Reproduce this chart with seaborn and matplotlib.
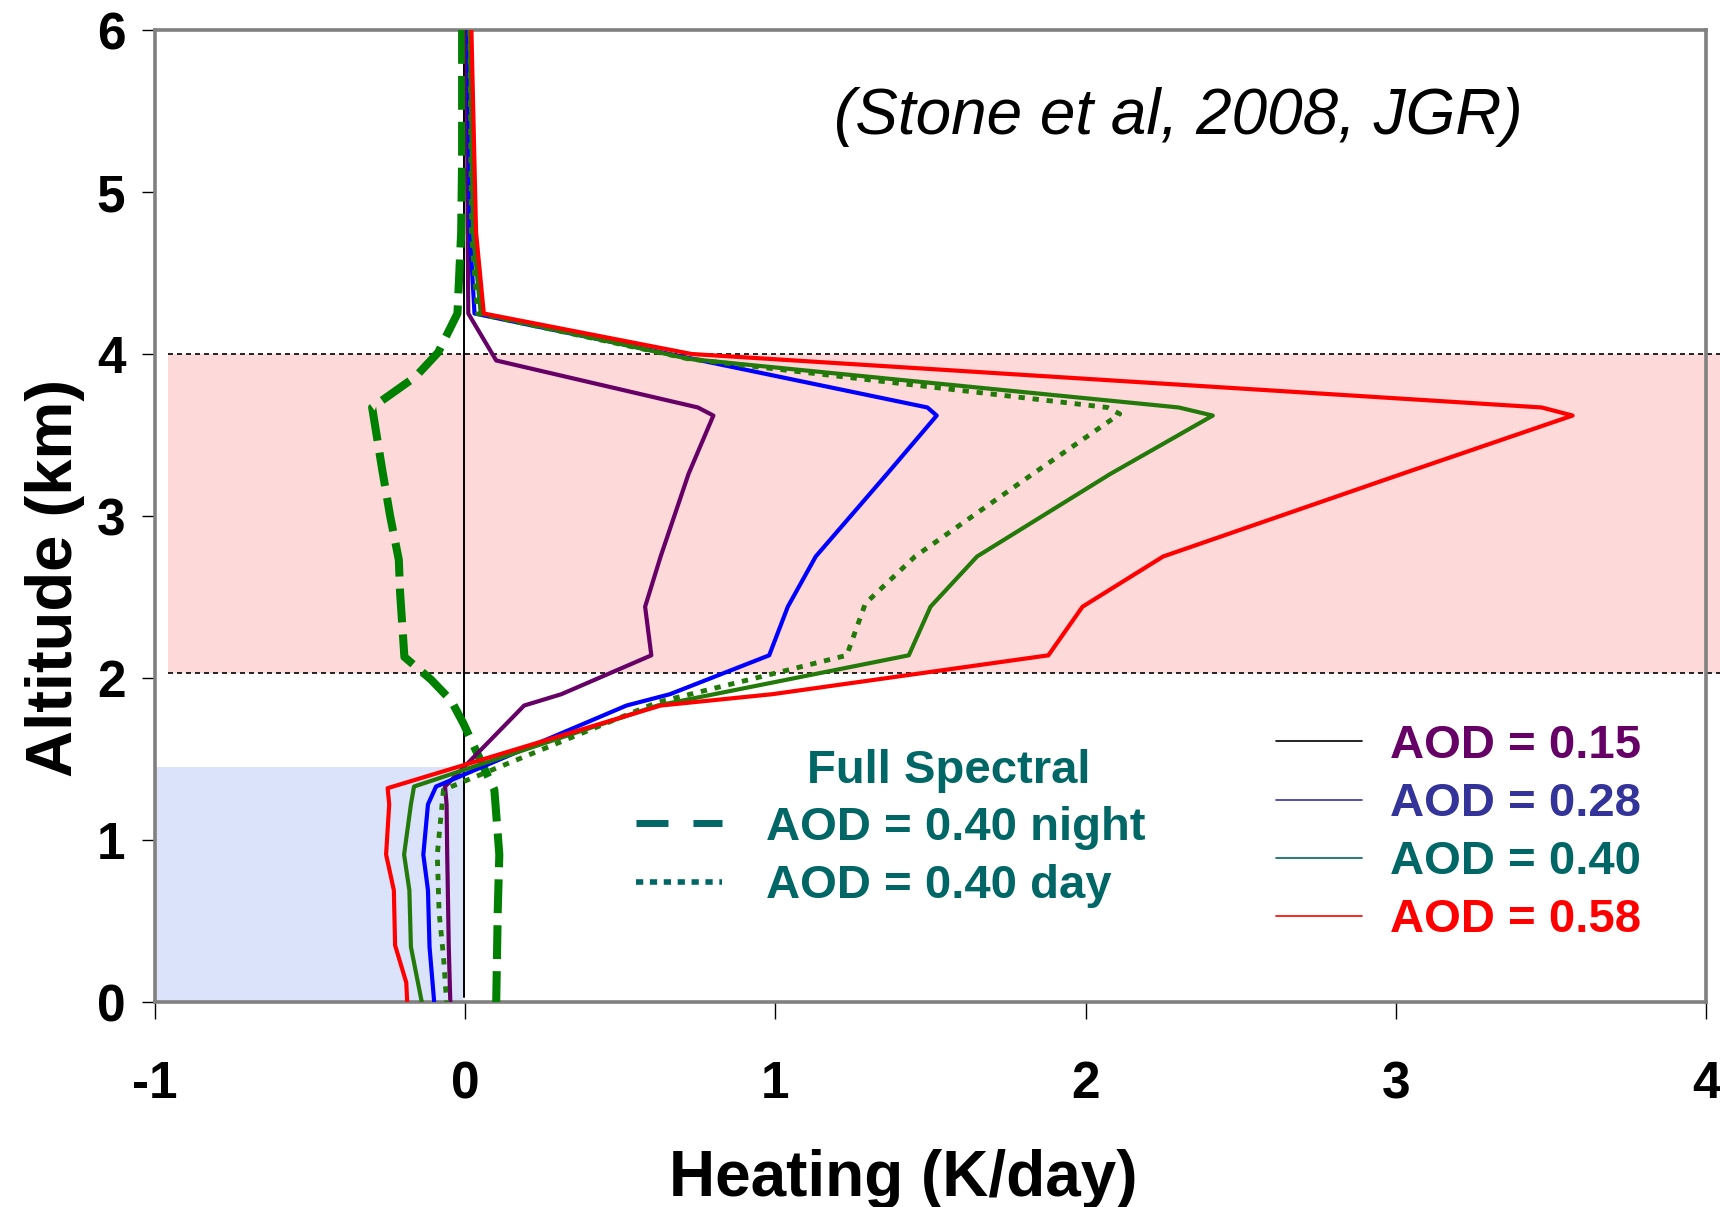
import matplotlib
matplotlib.use("Agg")
import matplotlib.pyplot as plt
import seaborn as sns
import pandas as pd
from matplotlib.lines import Line2D
from matplotlib.patches import Rectangle

# ---------------- data ----------------
alt_015 = [6.0, 4.75, 4.25, 3.96, 3.67, 3.62, 3.26, 2.75, 2.44, 2.14, 1.90, 1.83, 1.33, 1.22, 0.91, 0.69, 0.34, 0.0]
heat_015 = [0.005, 0.008, 0.01, 0.10, 0.75, 0.80, 0.72, 0.63, 0.58, 0.60, 0.31, 0.19, -0.065, -0.060, -0.058, -0.056, -0.053, -0.048]

alt_028 = [6.0, 4.75, 4.25, 3.67, 3.62, 3.26, 2.75, 2.44, 2.14, 1.90, 1.83, 1.33, 1.22, 0.91, 0.69, 0.34, 0.0]
heat_028 = [0.01, 0.015, 0.03, 1.49, 1.52, 1.36, 1.13, 1.04, 0.98, 0.66, 0.52, -0.094, -0.12, -0.135, -0.12, -0.115, -0.10]

alt_040 = [6.0, 4.75, 4.25, 3.97, 3.67, 3.62, 3.26, 2.75, 2.44, 2.14, 1.83, 1.33, 1.22, 0.91, 0.69, 0.34, 0.0]
heat_040 = [0.015, 0.025, 0.05, 0.72, 2.30, 2.41, 2.08, 1.65, 1.50, 1.43, 0.62, -0.165, -0.175, -0.197, -0.18, -0.175, -0.14]

alt_058 = [6.0, 4.75, 4.25, 4.0, 3.67, 3.62, 3.26, 2.75, 2.44, 2.14, 1.90, 1.83, 1.32, 1.22, 0.91, 0.69, 0.35, 0.12, 0.0]
heat_058 = [0.02, 0.035, 0.06, 0.73, 3.47, 3.57, 3.02, 2.25, 1.99, 1.88, 0.99, 0.63, -0.25, -0.245, -0.255, -0.23, -0.226, -0.19, -0.187]

alt_040_day = [6.0, 4.75, 4.25, 3.97, 3.67, 3.63, 3.26, 2.75, 2.46, 2.14, 2.03, 1.85, 1.31, 0.91, 0.55, 0.28, 0.0]
heat_040_day = [0.015, 0.02, 0.04, 0.72, 2.07, 2.11, 1.83, 1.45, 1.29, 1.23, 1.0, 0.62, -0.07, -0.09, -0.084, -0.07, -0.06]

alt_040_night = [6.0, 5.2, 4.75, 4.25, 4.01, 3.86, 3.67, 3.28, 3.0, 2.73, 2.53, 2.13, 1.99, 1.86, 1.72, 1.39, 1.31, 0.91, 0.57, 0.0]
heat_040_night = [-0.01, -0.01, -0.013, -0.025, -0.087, -0.16, -0.30, -0.267, -0.242, -0.214, -0.21, -0.196, -0.11, -0.045, -0.006, 0.074, 0.094, 0.11, 0.105, 0.10]

aerosol_layer = (2.03, 4.0)      # km, shaded pink band
boundary_layer_top = 1.45        # km, shaded blue box

x_ticks = [-1, 0, 1, 2, 3, 4]
x_tick_labels = ["-1", "0", "1", "2", "3", "4"]
y_ticks = [0, 1, 2, 3, 4, 5, 6]
y_tick_labels = ["0", "1", "2", "3", "4", "5", "6"]

aod_labels = ["AOD = 0.15", "AOD = 0.28", "AOD = 0.40", "AOD = 0.58"]
fs_labels = ["AOD = 0.40 night", "AOD = 0.40 day"]

# ---------------- style ----------------
sns.set_theme(style="white")
plt.rcParams["font.family"] = ["Liberation Sans", "DejaVu Sans"]
plt.rcParams["axes.unicode_minus"] = False

W, H = 1720, 1207
fig = plt.figure(figsize=(W / 100, H / 100), dpi=100)
ax = fig.add_axes([155 / W, 1 - 1002 / H, 1551 / W, 972 / H])
ax.set_xlim(-1, 4)
ax.set_ylim(0, 6)

# shaded regions
x_band_left = -0.957
x_band_right = 4.05
ax.add_patch(Rectangle((x_band_left, aerosol_layer[0]), x_band_right - x_band_left,
                       aerosol_layer[1] - aerosol_layer[0], fc="#fdd9d9", ec="none",
                       clip_on=False, zorder=0))
ax.add_patch(Rectangle((-1, 0), 0.992, boundary_layer_top, fc="#dbe3fa", ec="none",
                       zorder=0.5))
for yb in aerosol_layer:
    ax.plot([x_band_left, x_band_right], [yb, yb], color="black", lw=1.2,
            dashes=(3, 2.4), clip_on=False, zorder=1)

ax.axvline(-0.005, ymin=0.005, ymax=1, color="black", lw=1.4, zorder=1.5)

def draw(alt, heat, color, lw, dashes=None, z=3):
    df = pd.DataFrame({"heat": heat, "alt": alt})
    kw = dict(color=color, lw=lw, zorder=z)
    if dashes is not None:
        kw["dashes"] = dashes
    sns.lineplot(data=df, x="heat", y="alt", sort=False, estimator=None,
                 ax=ax, legend=False, **kw)

draw(alt_040_night, heat_040_night, "#008000", 5.8, dashes=(4.2, 1.5), z=2.8)
draw(alt_015, heat_015, "#660066", 3.0)
draw(alt_028, heat_028, "#0000ff", 3.0)
draw(alt_040_day, heat_040_day, "#237a0a", 3.5, dashes=(1.3, 1.6), z=3.1)
draw(alt_040, heat_040, "#237a0a", 3.0, z=3.2)
draw(alt_058, heat_058, "#ff0000", 3.0, z=3.3)

# axes cosmetics
for s in ax.spines.values():
    s.set_color("#808080")
    s.set_linewidth(2.6)
    s.set_zorder(2.5)
ax.set_xticks(x_ticks)
ax.set_xticklabels(x_tick_labels)
ax.set_yticks(y_ticks)
ax.set_yticklabels(y_tick_labels)
ax.tick_params(axis="both", bottom=True, left=True, top=False, right=False,
               direction="out", width=1.0, color="black",
               labelsize=37, labelcolor="black")
ax.tick_params(axis="x", length=12, pad=30)
ax.tick_params(axis="y", length=9.4, pad=12)
for lab in ax.get_xticklabels() + ax.get_yticklabels():
    lab.set_fontweight("bold")

ax.set_xlabel("Heating (K/day)", fontsize=46, fontweight="bold", color="black")
ax.set_ylabel("Altitude (km)", fontsize=47, fontweight="bold", color="black")
ax.xaxis.set_label_coords((903 - 155) / 1551, (1002 - 1149) / 972)
ax.yaxis.set_label_coords((85 - 155) / 1551, (1002 - 578) / 972)

ax.text(2.30, 5.46, "(Stone et al, 2008, JGR)", fontsize=46, style="italic",
        fontweight="normal", ha="center", va="center", color="black")

# legends
teal = "#006666"
h_fs = [Line2D([], [], color=teal, lw=5, dashes=(4.6, 3.6)),
        Line2D([], [], color=teal, lw=4, dashes=(1.3, 1.2))]
leg1 = ax.legend(h_fs, fs_labels, loc="upper left",
                 bbox_to_anchor=(636 / W, (H - 806) / H), bbox_transform=fig.transFigure,
                 frameon=False, prop={"size": 34, "weight": "bold"},
                 handlelength=1.82, handletextpad=0.93, labelspacing=0.3,
                 borderpad=0, borderaxespad=0)
for t in leg1.get_texts():
    t.set_color(teal)
ax.add_artist(leg1)
fig.text(949 / W, 1 - 771 / H, "Full Spectral", ha="center", va="center",
         color=teal, fontsize=34, fontweight="bold")

h_aod = [Line2D([], [], color=c, lw=1.2) for c in ["black", "#3333aa", teal, "#ff0000"]]
leg2 = ax.legend(h_aod, aod_labels, loc="upper left",
                 bbox_to_anchor=(1276 / W, (H - 724) / H), bbox_transform=fig.transFigure,
                 frameon=False, prop={"size": 34, "weight": "bold"},
                 handlelength=1.82, handletextpad=0.59, labelspacing=0.3,
                 borderpad=0, borderaxespad=0)
for t, c in zip(leg2.get_texts(), ["#660066", "#333399", teal, "#ff0000"]):
    t.set_color(c)

fig.savefig("out.png", dpi=100)
